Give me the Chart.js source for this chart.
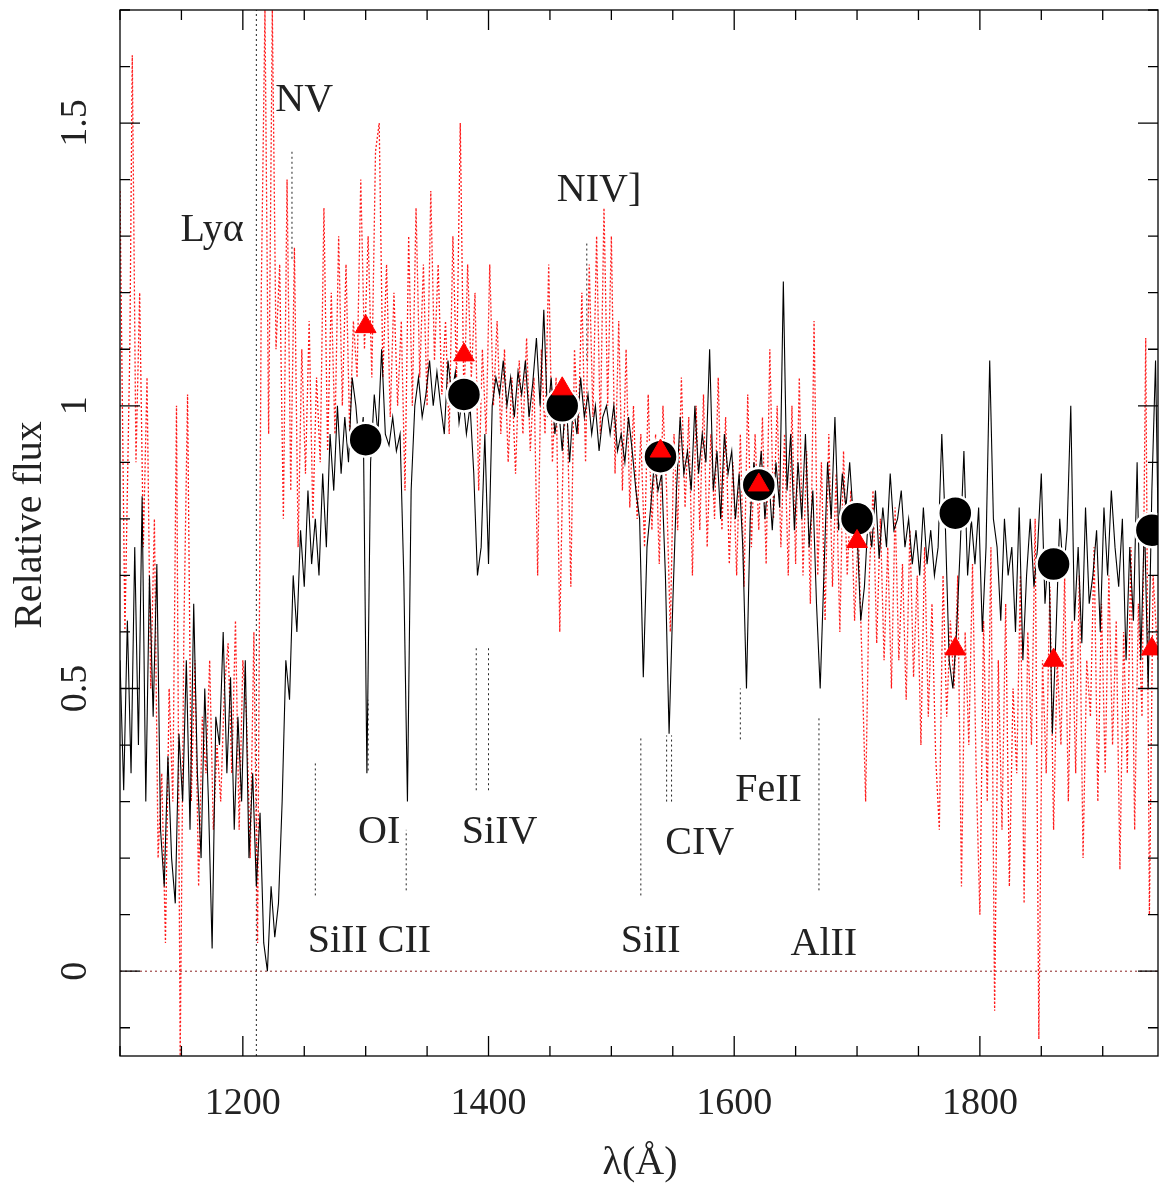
<!DOCTYPE html>
<html>
<head>
<meta charset="utf-8">
<script src="https://cdn.jsdelivr.net/npm/chart.js@4/dist/chart.umd.min.js"></script>
<style>
  html, body { margin: 0; padding: 0; background: #fff; }
  #wrap { width: 1159px; height: 1185px; }
</style>
</head>
<body>
<div id="wrap"><canvas id="c" width="1159" height="1185"></canvas></div>
<script>
// Observed spectrum (black, solid)
const blackSpec = [[1100,0.55],[1103,0.32],[1106,0.62],[1109,0.35],[1112,0.75],[1115,0.40],[1118,0.84],[1121,0.30],[1124,0.70],[1127,0.45],[1130,0.72],[1133,0.25],[1136,0.15],[1139,0.38],[1142,0.20],[1145,0.12],[1148,0.42],[1151,0.30],[1154,0.55],[1157,0.25],[1160,0.65],[1163,0.35],[1166,0.20],[1169,0.50],[1172,0.30],[1175,0.04],[1178,0.45],[1181,0.40],[1184,0.60],[1187,0.35],[1190,0.52],[1193,0.25],[1196,0.45],[1199,0.30],[1202,0.55],[1205,0.20],[1208,0.35],[1211,0.15],[1214,0.28],[1217,0.05],[1220,0.0],[1223,0.15],[1226,0.06],[1229,0.12],[1232,0.30],[1235,0.55],[1238,0.48],[1241,0.70],[1244,0.60],[1247,0.78],[1250,0.68],[1253,0.85],[1256,0.72],[1259,0.80],[1262,0.70],[1265,0.88],[1268,0.75],[1271,0.95],[1274,0.85],[1277,1.0],[1280,0.88],[1283,0.98],[1286,0.90],[1289,1.05],[1292,1.0],[1295,0.92],[1298,0.98],[1301,0.35],[1304,0.90],[1307,1.02],[1310,0.95],[1313,1.10],[1316,0.95],[1319,0.93],[1322,0.98],[1325,0.92],[1328,0.95],[1331,0.70],[1334,0.30],[1337,0.85],[1340,1.0],[1343,1.05],[1346,0.98],[1349,1.02],[1352,1.08],[1355,1.0],[1358,1.06],[1361,1.0],[1364,0.95],[1367,1.08],[1370,1.02],[1373,1.06],[1376,0.97],[1379,1.02],[1382,0.95],[1385,1.0],[1388,0.88],[1391,0.70],[1394,0.75],[1397,0.95],[1400,0.72],[1403,1.0],[1406,1.05],[1409,1.02],[1412,1.08],[1415,1.0],[1418,1.05],[1421,0.98],[1424,1.06],[1427,1.02],[1430,1.08],[1433,0.98],[1436,1.04],[1439,1.12],[1442,1.0],[1445,1.17],[1448,0.98],[1451,1.05],[1454,0.95],[1457,1.0],[1460,0.92],[1463,1.02],[1466,0.90],[1469,1.0],[1472,0.95],[1475,1.05],[1478,0.98],[1481,1.02],[1484,0.95],[1487,1.0],[1490,0.92],[1493,0.98],[1496,1.0],[1499,0.95],[1502,1.0],[1505,0.92],[1508,0.95],[1511,0.90],[1514,0.98],[1517,0.92],[1520,0.85],[1523,0.80],[1526,0.52],[1529,0.75],[1532,0.82],[1535,0.90],[1538,0.85],[1541,0.88],[1544,0.70],[1547,0.42],[1550,0.65],[1553,0.85],[1556,0.98],[1559,0.88],[1562,0.92],[1565,0.85],[1568,1.0],[1571,0.88],[1574,0.95],[1577,0.90],[1580,1.10],[1583,0.85],[1586,0.92],[1589,0.80],[1592,0.95],[1595,0.88],[1598,0.92],[1601,0.80],[1604,0.88],[1607,0.75],[1610,0.50],[1613,0.80],[1616,0.90],[1619,0.85],[1622,0.92],[1625,0.80],[1628,0.88],[1631,0.78],[1634,0.90],[1637,0.82],[1640,1.22],[1643,0.85],[1646,0.95],[1649,0.78],[1652,0.90],[1655,0.80],[1658,0.95],[1661,0.75],[1664,0.85],[1667,0.65],[1670,0.50],[1673,0.70],[1676,0.90],[1679,0.80],[1682,0.98],[1685,0.78],[1688,0.88],[1691,0.82],[1694,0.90],[1697,0.80],[1700,0.78],[1703,0.62],[1706,0.68],[1709,0.80],[1712,0.75],[1715,0.85],[1718,0.73],[1721,0.82],[1724,0.75],[1727,0.88],[1730,0.78],[1733,0.80],[1736,0.85],[1739,0.75],[1742,0.80],[1745,0.72],[1748,0.78],[1751,0.70],[1754,0.82],[1757,0.72],[1760,0.78],[1763,0.70],[1766,0.75],[1769,0.95],[1772,0.78],[1775,0.55],[1778,0.50],[1781,0.60],[1784,0.75],[1787,0.92],[1790,0.70],[1793,0.80],[1796,0.72],[1799,0.82],[1802,0.60],[1805,0.75],[1808,1.08],[1811,0.80],[1814,0.75],[1817,0.62],[1820,0.80],[1823,0.70],[1826,0.75],[1829,0.60],[1832,0.82],[1835,0.55],[1838,0.70],[1841,0.80],[1844,0.68],[1847,0.75],[1850,0.88],[1853,0.65],[1856,0.75],[1859,0.42],[1862,0.60],[1865,0.80],[1868,0.70],[1871,0.78],[1874,1.0],[1877,0.62],[1880,0.75],[1883,0.58],[1886,0.82],[1889,0.65],[1892,0.70],[1895,0.78],[1898,0.60],[1901,0.82],[1904,0.70],[1907,0.85],[1910,0.75],[1913,0.68],[1916,0.80],[1919,0.55],[1922,0.75],[1925,0.62],[1928,0.90],[1931,0.55],[1934,0.80],[1937,0.50],[1940,0.85],[1943,1.08],[1945,0.80]];

// Comparison spectrum (red, dotted)
const redSpec = [[1100,1.38],[1104,0.60],[1108,1.10],[1110,1.62],[1113,0.90],[1116,1.20],[1119,0.75],[1122,1.05],[1125,0.50],[1128,0.80],[1131,0.20],[1134,0.35],[1137,0.05],[1140,0.50],[1143,0.30],[1146,1.0],[1149,-0.15],[1152,0.60],[1155,1.02],[1158,0.30],[1161,0.55],[1164,0.15],[1167,0.45],[1170,0.35],[1173,0.55],[1176,0.25],[1179,0.40],[1182,0.30],[1185,0.50],[1188,0.58],[1191,0.35],[1194,0.62],[1197,0.25],[1200,0.55],[1203,0.45],[1206,0.20],[1209,0.60],[1212,0.05],[1215,1.20],[1218,1.70],[1221,0.95],[1224,1.70],[1227,1.10],[1230,1.25],[1233,0.80],[1236,1.40],[1239,0.85],[1242,1.28],[1245,0.75],[1248,1.10],[1251,0.88],[1254,1.15],[1257,0.80],[1260,1.05],[1263,0.90],[1266,1.35],[1269,0.92],[1272,1.20],[1275,0.95],[1278,1.30],[1281,1.0],[1284,1.25],[1287,0.95],[1290,1.15],[1293,1.05],[1296,1.40],[1299,1.10],[1302,1.30],[1305,1.05],[1308,1.45],[1311,1.50],[1314,1.05],[1317,1.25],[1320,0.98],[1323,1.20],[1326,1.0],[1329,1.15],[1332,0.85],[1335,1.30],[1338,1.0],[1341,1.35],[1344,1.05],[1347,1.25],[1350,1.0],[1353,1.38],[1356,1.08],[1359,1.25],[1362,1.02],[1365,1.15],[1368,0.95],[1371,1.30],[1374,1.05],[1377,1.50],[1380,1.0],[1383,1.25],[1386,1.05],[1389,1.20],[1392,0.85],[1395,1.10],[1398,0.95],[1401,1.25],[1404,1.0],[1407,1.15],[1410,0.95],[1413,1.10],[1416,0.90],[1419,1.05],[1422,0.88],[1425,1.08],[1428,0.95],[1431,1.12],[1434,0.92],[1437,1.05],[1440,0.70],[1443,1.10],[1446,0.95],[1449,1.25],[1452,0.90],[1455,1.05],[1458,0.60],[1461,0.95],[1464,1.0],[1467,0.68],[1470,1.10],[1473,0.95],[1476,1.20],[1479,0.90],[1482,1.25],[1485,0.98],[1488,1.30],[1491,0.95],[1494,1.35],[1497,1.0],[1500,1.30],[1503,0.88],[1506,1.15],[1509,0.85],[1512,1.10],[1515,0.82],[1518,1.0],[1521,0.80],[1524,0.95],[1527,0.75],[1530,1.02],[1533,0.78],[1536,0.95],[1539,0.72],[1542,1.0],[1545,0.85],[1548,0.60],[1551,0.95],[1554,0.78],[1557,1.05],[1560,0.82],[1563,0.98],[1566,0.70],[1569,1.0],[1572,0.78],[1575,1.02],[1578,0.75],[1581,0.95],[1584,0.80],[1587,1.05],[1590,0.78],[1593,0.98],[1596,0.72],[1599,0.90],[1602,0.70],[1605,0.95],[1608,0.68],[1611,1.02],[1614,0.75],[1617,0.95],[1620,0.78],[1623,0.98],[1626,0.72],[1629,1.10],[1632,0.80],[1635,1.0],[1638,0.75],[1641,0.95],[1644,0.70],[1647,1.0],[1650,0.72],[1653,1.05],[1656,0.70],[1659,0.92],[1662,0.65],[1665,1.15],[1668,0.70],[1671,0.90],[1674,0.62],[1677,0.95],[1680,0.68],[1683,0.88],[1686,0.60],[1689,0.92],[1692,0.70],[1695,0.85],[1698,0.62],[1701,0.78],[1704,0.55],[1707,0.30],[1710,0.70],[1713,0.85],[1716,0.58],[1719,0.80],[1722,0.55],[1725,0.75],[1728,0.50],[1731,0.82],[1734,0.55],[1737,0.72],[1740,0.48],[1743,0.78],[1746,0.52],[1749,0.70],[1752,0.40],[1755,0.75],[1758,0.45],[1761,0.65],[1764,0.38],[1767,0.25],[1770,0.70],[1773,0.45],[1776,0.62],[1779,0.50],[1782,0.70],[1785,0.15],[1788,0.60],[1791,0.40],[1794,0.72],[1797,0.35],[1800,0.10],[1803,0.62],[1806,0.30],[1809,0.75],[1812,-0.07],[1815,0.55],[1818,0.25],[1821,0.65],[1824,0.15],[1827,0.50],[1830,0.35],[1833,0.70],[1836,0.12],[1839,0.60],[1842,0.40],[1845,0.80],[1848,-0.12],[1851,0.55],[1854,0.35],[1857,0.68],[1860,0.25],[1863,0.55],[1866,0.40],[1869,0.70],[1872,0.30],[1875,0.62],[1878,0.35],[1881,0.70],[1884,0.20],[1887,0.55],[1890,0.45],[1893,0.75],[1896,0.30],[1899,0.65],[1902,0.35],[1905,0.70],[1908,0.40],[1911,0.62],[1914,0.18],[1917,0.60],[1920,0.35],[1923,0.75],[1926,0.25],[1929,0.65],[1932,0.45],[1935,1.12],[1938,0.10],[1941,0.70],[1945,0.55]];

// Binned fluxes
const binCenters = [1300, 1380, 1460, 1540, 1620, 1700, 1780, 1860, 1940];
const blackBins = [0.94, 1.02, 1.00, 0.91, 0.86, 0.80, 0.81, 0.72, 0.78];
const redBins = [1.14, 1.09, 1.03, 0.92, 0.86, 0.76, 0.57, 0.55, 0.57];

// Line identification marks: [wavelength, yFrom, yTo]
const lineMarks = [
    [1211, -0.15, 1.70], [1240, 1.26, 1.45], [1480, 1.08, 1.29],
    [1302, 0.355, 0.48], [1390, 0.32, 0.576], [1400, 0.32, 0.576],
    [1545, 0.30, 0.417], [1549, 0.30, 0.417], [1605, 0.41, 0.50],
    [1259, 0.134, 0.37], [1333, 0.143, 0.25], [1524, 0.134, 0.417],
    [1669, 0.143, 0.45]
];
const lineLabels = [
    ['Lyα', 1175, 1.31], ['NV', 1250, 1.54], ['NIV]', 1490, 1.38],
    ['OI', 1311, 0.245], ['SiIV', 1409, 0.245], ['CIV', 1572, 0.225],
    ['FeII', 1628, 0.32], ['SiII CII', 1303, 0.052], ['SiII', 1532, 0.052],
    ['AlII', 1673, 0.047]
];

const xTicks = [1200, 1400, 1600, 1800];
const yTicks = [0, 0.5, 1, 1.5];
const X_MIN = 1100, X_MAX = 1945, Y_MIN = -0.15, Y_MAX = 1.70;

const toPts = arr => arr.map(p => ({ x: p[0], y: p[1] }));
const FONT = "'Liberation Serif', 'DejaVu Serif', serif";

// Chart.js paints the first dataset on top, so markers go first
const datasets = [];
datasets.push({
    data: binCenters.map((x, i) => ({ x: x, y: redBins[i] })),
    pointStyle: 'triangle', pointRadius: 12, pointBackgroundColor: '#ff0000',
    pointBorderColor: '#ff0000', pointBorderWidth: 1
});
datasets.push({
    data: binCenters.map((x, i) => ({ x: x, y: blackBins[i] })),
    pointRadius: 17, pointBackgroundColor: '#000',
    pointBorderColor: '#fff', pointBorderWidth: 2.5
});
datasets.push({
    data: toPts(blackSpec), showLine: true, borderColor: '#000',
    borderWidth: 1.1, pointRadius: 0
});
datasets.push({
    data: toPts(redSpec), showLine: true, borderColor: '#ff1a1a',
    borderWidth: 1.3, borderDash: [2, 2], pointRadius: 0
});
datasets.push({
    data: [{ x: X_MIN, y: 0 }, { x: X_MAX, y: 0 }],
    showLine: true, borderColor: '#8b2020', borderWidth: 1,
    borderDash: [2, 3], pointRadius: 0
});
lineMarks.forEach(m => {
    datasets.push({
        data: [{ x: m[0], y: m[1] }, { x: m[0], y: m[2] }],
        showLine: true, borderColor: '#222', borderWidth: 1,
        borderDash: [2, 3], pointRadius: 0
    });
});

const framePlugin = {
    id: 'frame',
    afterDraw(chart) {
        const ctx = chart.ctx;
        const a = chart.chartArea;
        const xs = chart.scales.x, ys = chart.scales.y;
        ctx.save();
        ctx.strokeStyle = '#000';
        ctx.lineWidth = 1.3;
        ctx.strokeRect(a.left, a.top, a.right - a.left, a.bottom - a.top);

        // inward ticks on all sides
        for (let v = 1100; v <= X_MAX; v += 50) {
            const px = xs.getPixelForValue(v);
            const len = (v % 200 === 0) ? 20 : 10;
            ctx.beginPath();
            ctx.moveTo(px, a.bottom); ctx.lineTo(px, a.bottom - len);
            ctx.moveTo(px, a.top); ctx.lineTo(px, a.top + len);
            ctx.stroke();
        }
        for (let i = -1; i <= 17; i++) {
            const v = i / 10;
            const py = ys.getPixelForValue(v);
            if (py < a.top || py > a.bottom) continue;
            const len = (i % 5 === 0) ? 20 : 10;
            ctx.beginPath();
            ctx.moveTo(a.left, py); ctx.lineTo(a.left + len, py);
            ctx.moveTo(a.right, py); ctx.lineTo(a.right - len, py);
            ctx.stroke();
        }

        ctx.fillStyle = '#222';
        ctx.font = '38px ' + FONT;
        ctx.textAlign = 'center';
        ctx.textBaseline = 'middle';
        xTicks.forEach(v => ctx.fillText(String(v), xs.getPixelForValue(v), 1104));
        yTicks.forEach(v => {
            ctx.save();
            ctx.translate(76, ys.getPixelForValue(v));
            ctx.rotate(-Math.PI / 2);
            ctx.fillText(String(v), 0, 0);
            ctx.restore();
        });

        ctx.font = '40px ' + FONT;
        ctx.fillText('λ(Å)', 640, 1163);
        ctx.save();
        ctx.translate(30, 525);
        ctx.rotate(-Math.PI / 2);
        ctx.fillText('Relative flux', 0, 0);
        ctx.restore();

        lineLabels.forEach(l => {
            ctx.fillText(l[0], xs.getPixelForValue(l[1]), ys.getPixelForValue(l[2]));
        });
        ctx.restore();
    }
};

new Chart(document.getElementById('c'), {
    type: 'scatter',
    data: { datasets: datasets },
    options: {
        responsive: false,
        animation: false,
        layout: { autoPadding: false, padding: { left: 120, top: 10, right: 1, bottom: 129 } },
        plugins: { legend: { display: false }, tooltip: { enabled: false } },
        scales: {
            x: { type: 'linear', min: X_MIN, max: X_MAX, display: false },
            y: { type: 'linear', min: Y_MIN, max: Y_MAX, display: false }
        }
    },
    plugins: [framePlugin]
});
</script>
</body>
</html>
